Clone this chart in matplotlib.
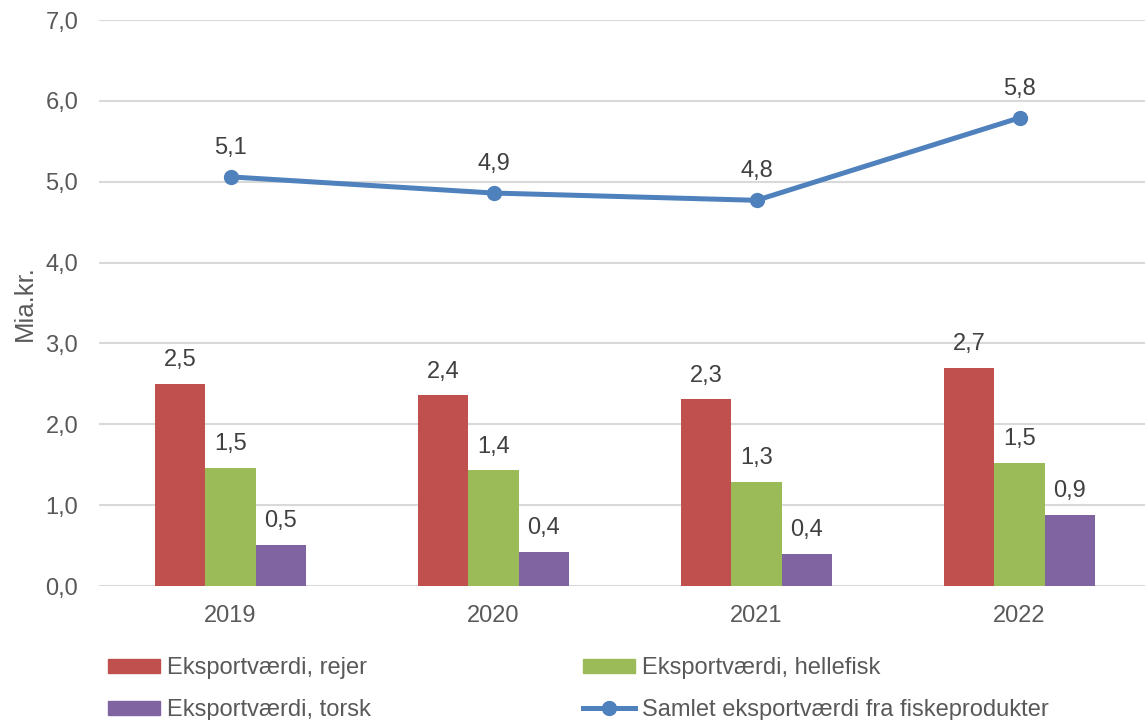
import matplotlib
matplotlib.use("Agg")
from matplotlib import pyplot as plt
from matplotlib.patches import Patch
from matplotlib.lines import Line2D
import numpy as np

plt.rcParams['font.family'] = ['Liberation Sans', 'DejaVu Sans']

years = ['2019', '2020', '2021', '2022']
rejer = [2.50, 2.36, 2.31, 2.70]
hellefisk = [1.46, 1.43, 1.29, 1.52]
torsk = [0.51, 0.42, 0.40, 0.88]
samlet = [5.06, 4.86, 4.77, 5.79]

c_rejer = '#C0504D'
c_helle = '#9BBB59'
c_torsk = '#8064A2'
c_samlet = '#4F81BD'
tick_col = '#595959'
lab_col = '#404040'
fs = 17

W, H = 1145, 720
fig = plt.figure(figsize=(W / 100, H / 100), dpi=100)
ax = fig.add_axes([99 / W, 134 / H, 1052 / W, 566 / H])

x = np.arange(len(years))
bw = 0.192
series = [(rejer, c_rejer, -bw), (hellefisk, c_helle, 0), (torsk, c_torsk, bw)]
for vals, col, off in series:
    bars = ax.bar(x + off, vals, bw, color=col, zorder=3)
    for b, v in zip(bars, vals):
        ax.annotate(('%.1f' % v).replace('.', ','),
                    (b.get_x() + b.get_width() / 2, v),
                    xytext=(0, 17), textcoords='offset points',
                    ha='center', va='center', fontsize=fs, color=lab_col)

ax.plot(x, samlet, color=c_samlet, lw=3.6, marker='o', ms=10, zorder=4,
        solid_capstyle='round')
for xi, v in zip(x, samlet):
    ax.annotate(('%.1f' % v).replace('.', ','), (xi, v),
                xytext=(0, 21), textcoords='offset points',
                ha='center', va='center', fontsize=fs, color=lab_col)

ax.set_xlim(-0.5, 3.5)
ax.set_ylim(0, 7)
ax.set_yticks(np.arange(0, 8, 1))
ax.set_yticklabels([('%.1f' % t).replace('.', ',') for t in range(8)])
ax.set_xticks(x)
ax.set_xticklabels(years)
ax.tick_params(axis='both', length=0, labelsize=fs, colors=tick_col)
ax.tick_params(axis='y', pad=15)
ax.tick_params(axis='x', pad=14)
ax.grid(axis='y', color='#D9D9D9', lw=1.5, zorder=0)
for s in ax.spines.values():
    s.set_visible(False)
ax.set_axisbelow(True)
ax.set_ylabel('Mia.kr.', fontsize=18.5, color=tick_col)
ax.yaxis.set_label_coords(-62 / 1052, 0.5)

handles = [
    Patch(color=c_rejer, label='Eksportværdi, rejer'),
    Patch(color=c_torsk, label='Eksportværdi, torsk'),
    Patch(color=c_helle, label='Eksportværdi, hellefisk'),
    Line2D([], [], color=c_samlet, lw=3.6, marker='o', ms=10,
           label='Samlet eksportværdi fra fiskeprodukter'),
]
leg = fig.legend(handles=handles, ncol=2, loc='upper left',
                 bbox_to_anchor=(108 / W, 1 - 657 / H), frameon=False,
                 fontsize=fs, handlelength=2.2, handleheight=0.55,
                 handletextpad=0.3, labelspacing=0.85, columnspacing=9.0,
                 borderaxespad=0, borderpad=0)
for t in leg.get_texts():
    t.set_color(tick_col)

fig.savefig('out.png', dpi=100)
